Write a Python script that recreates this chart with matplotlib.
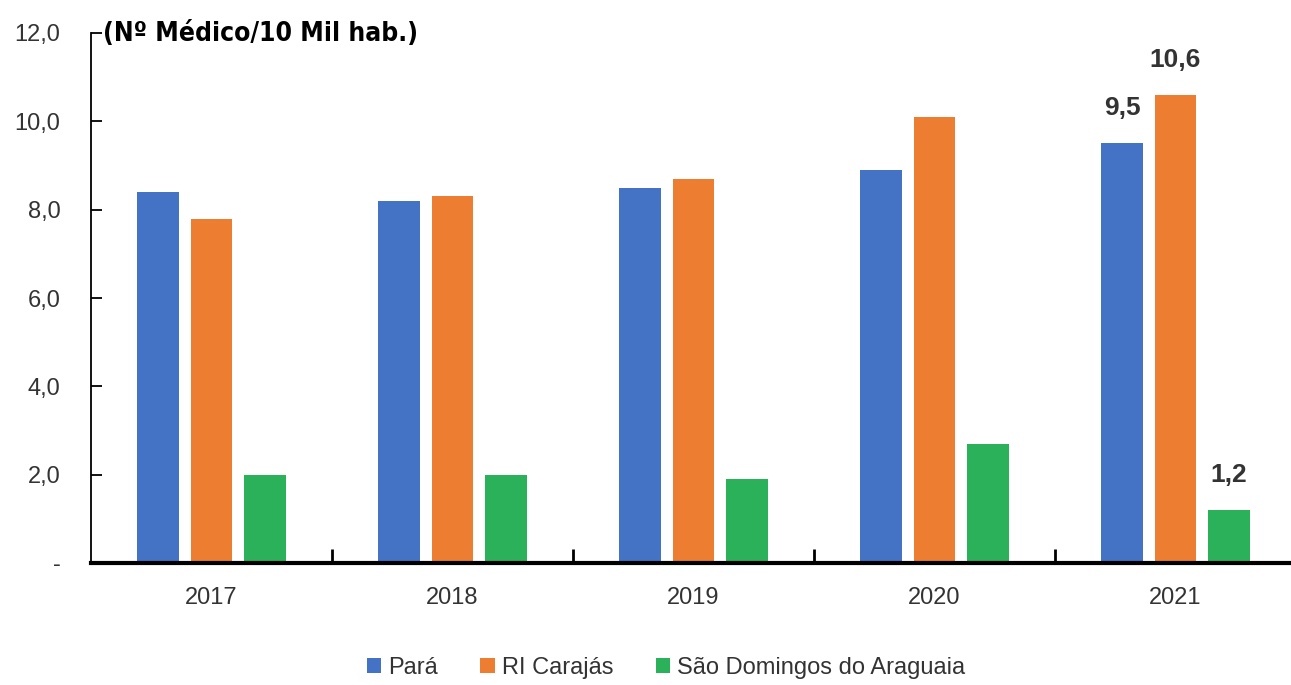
import numpy as np
import matplotlib.pyplot as plt
from matplotlib.ticker import FixedLocator

anos = ['2017', '2018', '2019', '2020', '2021']
para = [8.4, 8.2, 8.5, 8.9, 9.5]
carajas = [7.8, 8.3, 8.7, 10.1, 10.6]
sao_domingos = [2.0, 2.0, 1.9, 2.7, 1.2]
yticks = [0, 2, 4, 6, 8, 10, 12]
ytick_labels = ['-', '2,0', '4,0', '6,0', '8,0', '10,0', '12,0']

arial = ['Liberation Sans', 'DejaVu Sans']

fig = plt.figure(figsize=(12.91, 6.85), dpi=100)
ax = fig.add_axes([91/1291, 1 - 563/685, 1205/1291, 530/685])

x = np.arange(len(anos))
w = 0.174
off = 0.222
ax.bar(x - off, para, width=w, color='#4472C4', label='Pará')
ax.bar(x, carajas, width=w, color='#ED7D31', label='RI Carajás')
ax.bar(x + off, sao_domingos, width=w, color='#2BB15A', label='São Domingos do Araguaia')

# rótulos só em 2021
i = len(anos) - 1
for dx, v in [(-off, para[i]), (0, carajas[i]), (off, sao_domingos[i])]:
    ax.text(x[i] + dx, v + 0.52, f'{v:.1f}'.replace('.', ','), ha='center', va='bottom',
            fontsize=19, fontweight='bold', color='#333333', family=arial)

ax.set_xlim(-0.5, len(anos) - 0.5)
ax.set_ylim(0, 12)
ax.set_yticks(yticks)
ax.set_yticklabels(ytick_labels, family=arial, fontsize=17, color='#333333')
ax.tick_params(axis='y', direction='in', length=8, width=1.3, pad=22)

ax.set_xticks(x)
ax.set_xticklabels(anos, family=arial, fontsize=17, color='#333333')
ax.tick_params(axis='x', which='major', length=0, pad=17)
ax.xaxis.set_minor_locator(FixedLocator(np.arange(0.5, len(anos) - 0.5, 1)))
ax.tick_params(axis='x', which='minor', direction='in', length=10, width=2)

for s in ['top', 'right']:
    ax.spines[s].set_visible(False)
ax.spines['left'].set_linewidth(1.3)
ax.spines['bottom'].set_linewidth(3)

fig.text(103/1291, 1 - 34/685, '(Nº Médico/10 Mil hab.)', fontsize=19, fontweight='bold',
         fontstretch='condensed', ha='left', va='center', family='DejaVu Sans')

leg = fig.legend(loc='center', bbox_to_anchor=(666/1291, 1 - 668/685), ncol=3, frameon=False,
                 handlelength=0.6, handleheight=0.6, handletextpad=0.3, columnspacing=1.8,
                 prop={'family': arial, 'size': 17})
for t in leg.get_texts():
    t.set_color('#333333')

fig.savefig('out.png', dpi=100)
